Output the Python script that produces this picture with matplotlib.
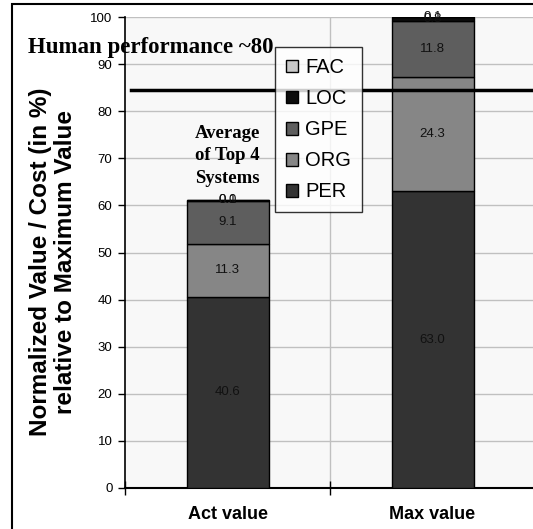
import matplotlib
matplotlib.use("Agg")
import matplotlib.pyplot as plt
from matplotlib.patches import Rectangle
import numpy as np

# normalized value per entity type, stacked bottom to top
categories = ["Act value", "Max value"]
series = ["PER", "ORG", "GPE", "LOC", "FAC"]
per = [40.6, 63.0]
org = [11.3, 24.3]
gpe = [9.1, 11.8]
loc = [0.1, 0.8]
fac = [0.0, 0.1]
human_level = 84.6

COLORS = {"PER": "#333333", "ORG": "#868686", "GPE": "#5e5e5e",
          "LOC": "#0d0d0d", "FAC": "#c8c8c8"}
SANS = "Liberation Sans"
SERIF = "Liberation Serif"

fig = plt.figure(figsize=(5.33, 5.29), dpi=100)
W, H = 533, 529
ax = fig.add_axes([125 / W, (H - 488) / H, (535 - 125) / W, (488 - 17) / H])
ax.set_facecolor("#f8f8f8")

# outer chart frame (runs off the right and bottom edges)
fig.patches.append(Rectangle((12 / W, -0.02), 1.0, (H - 4) / H + 0.02,
                             transform=fig.transFigure, fill=False,
                             edgecolor="black", lw=1.5, zorder=0))

x = np.arange(len(categories))
bottom = np.zeros(len(categories))
vals = {"PER": per, "ORG": org, "GPE": gpe, "LOC": loc, "FAC": fac}
handles = {}
for name in series:
    v = np.array(vals[name])
    bars = ax.bar(x, v, 0.4, bottom=bottom, color=COLORS[name],
                  edgecolor="black", lw=1.0, zorder=3, label=name)
    handles[name] = bars
    for xi, b, vi in zip(x, bottom, v):
        ax.text(xi, b + vi / 2, f"{vi:.1f}", ha="center", va="center",
                fontsize=9.5, family=SANS, color="#111111", zorder=4)
    bottom += v

ax.set_xlim(-0.5, 1.5)
ax.set_ylim(0, 100)
ax.set_yticks(np.arange(0, 101, 10))
ax.tick_params(axis="y", direction="out", length=5, width=1, labelsize=9.5,
               pad=4)
for lab in ax.get_yticklabels():
    lab.set_family(SANS)

# category boundaries carry the tick marks, names sit between them
ax.set_xticks([-0.5, 0.5, 1.5])
ax.set_xticklabels([])
ax.tick_params(axis="x", which="major", direction="inout", length=10, width=1)
ax.set_xticks(x, minor=True)
ax.set_xticklabels(categories, minor=True, fontsize=13, fontweight="bold",
                   family=SANS)
ax.tick_params(axis="x", which="minor", length=0, pad=13)

ax.grid(axis="y", color="#c0c0c0", lw=1, zorder=0)
ax.axvline(0.5, color="#c0c0c0", lw=1, zorder=0)
for side in ["top", "right"]:
    ax.spines[side].set_visible(False)
ax.spines["left"].set_linewidth(1.2)
ax.spines["bottom"].set_linewidth(1.5)

ax.set_ylabel("Normalized Value / Cost (in %)\nrelative to Maximum Value",
              fontsize=17.5, fontweight="bold", family=SANS,
              linespacing=1.1)
ax.yaxis.set_label_coords(-0.118, 0.48)

# human performance reference line
ax.plot([-0.47, 1.6], [human_level, human_level], color="black", lw=2.5,
        zorder=5, clip_on=False)
fig.text(28 / W, (H - 48) / H, "Human performance ~80", family=SERIF,
         fontweight="bold", fontsize=16.5, ha="left", va="center", zorder=6)
ax.text(0, 70.5, "Average\nof Top 4\nSystems", family=SERIF,
        fontweight="bold", fontsize=13.5, ha="center", va="center",
        linespacing=1.4, zorder=6)

leg = ax.legend([handles[s] for s in reversed(series)], list(reversed(series)),
                loc="upper left", bbox_to_anchor=(275 / W, (H - 47) / H),
                bbox_transform=fig.transFigure, prop={"family": SANS, "size": 14.5},
                frameon=True, fancybox=False, edgecolor="black",
                handlelength=0.6, handleheight=0.6, handletextpad=0.35,
                labelspacing=0.6, borderpad=0.55, borderaxespad=0)
leg.get_frame().set_linewidth(1.0)
leg.set_zorder(7)

fig.savefig("out.png", dpi=100)
